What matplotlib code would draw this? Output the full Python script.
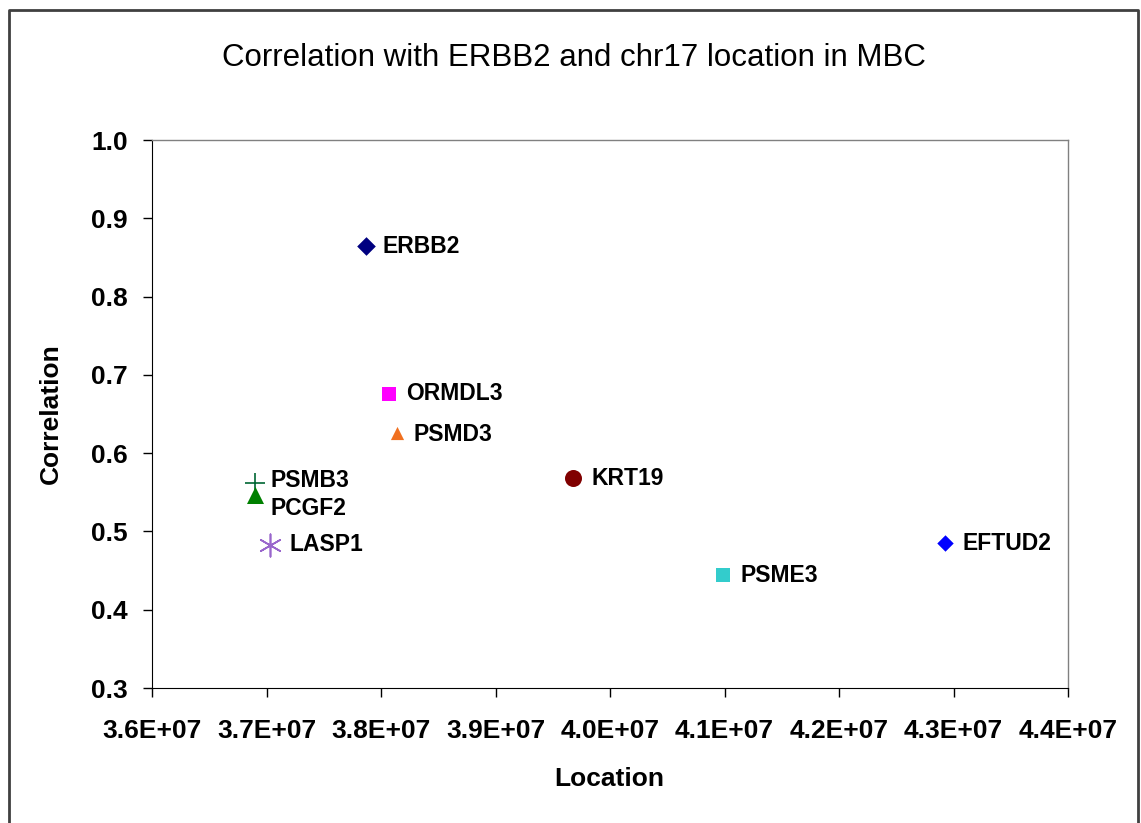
import matplotlib
matplotlib.use("Agg")
import matplotlib.pyplot as plt
from matplotlib.ticker import FuncFormatter, MultipleLocator
from matplotlib.lines import Line2D

# Data
genes = ['ERBB2', 'ORMDL3', 'PSMD3', 'KRT19', 'PSME3', 'EFTUD2', 'PSMB3', 'PCGF2', 'LASP1']
location = [3.787e7, 3.807e7, 3.814e7, 3.968e7, 4.099e7, 4.293e7, 3.690e7, 3.690e7, 3.703e7]
correlation = [0.864, 0.676, 0.626, 0.568, 0.444, 0.485, 0.562, 0.547, 0.483]
markers = ['D', 's', '^', 'o', 's', 'D', '+', '^', (6, 2, 0)]
colors = ['#000080', '#FF00FF', '#F07020', '#800000', '#33CCCC', '#0000FF', '#006633', '#008000', '#9966CC']
sizes = [90, 110, 90, 150, 110, 70, 220, 150, 260]
# label offsets in points (dx, dy)
offsets = [(12, 0), (12, 0), (12, -1), (13, 0), (12, 0), (12, 0), (11, 2), (11, -10), (14, 0)]

plt.rcParams['font.family'] = ['Liberation Sans', 'DejaVu Sans']

fig = plt.figure(figsize=(11.41, 8.23), dpi=100)
ax = fig.add_axes([152 / 1141, 1 - 688 / 823, 916 / 1141, 548 / 823])

for g, x, y, m, c, s, off in zip(genes, location, correlation, markers, colors, sizes, offsets):
    lw = 1.2 if m in ('+', (6, 2, 0)) else 0
    ax.scatter(x, y, marker=m, s=s, color=c, linewidths=lw, zorder=3)
    ax.annotate(g, (x, y), xytext=off, textcoords='offset points',
                ha='left', va='center', fontsize=16.5, fontweight='bold')

ax.set_xlim(3.6e7, 4.4e7)
ax.set_ylim(0.3, 1.0)
ax.xaxis.set_major_locator(MultipleLocator(1e6))
ax.yaxis.set_major_locator(MultipleLocator(0.1))
ax.xaxis.set_major_formatter(FuncFormatter(lambda v, p: '%.1fE+07' % (v / 1e7)))
ax.yaxis.set_major_formatter(FuncFormatter(lambda v, p: '%.1f' % v))
ax.tick_params(direction='out', length=6.5, width=1, labelsize=19)
ax.tick_params(axis='x', pad=16)
ax.tick_params(axis='y', pad=11)
for lab in ax.get_xticklabels() + ax.get_yticklabels():
    lab.set_fontweight('bold')

for side in ['top', 'right']:
    ax.spines[side].set_color('#808080')
    ax.spines[side].set_linewidth(1)
ax.spines['left'].set_color('black')
ax.spines['bottom'].set_color('black')

fig.text(609 / 1141, 1 - 779 / 823, 'Location', ha='center', va='center',
         fontsize=19, fontweight='bold')
fig.text(51 / 1141, 1 - 414 / 823, 'Correlation', ha='center', va='center',
         rotation=90, fontsize=19, fontweight='bold')
fig.text(574 / 1141, 1 - 58 / 823, 'Correlation with ERBB2 and chr17 location in MBC',
         ha='center', va='center', fontsize=22.5)

# outer chart border (left, top, right)
bx0, bx1, by = 8.5 / 1141, 1137.5 / 1141, 1 - 10 / 823
fig.lines.append(Line2D([bx0, bx0, bx1, bx1], [0, by, by, 0], transform=fig.transFigure,
                        color='#404040', linewidth=2))

fig.savefig('out.png', dpi=100)
